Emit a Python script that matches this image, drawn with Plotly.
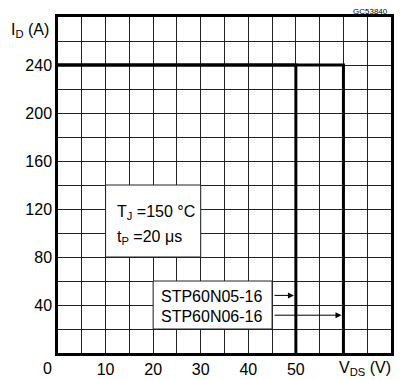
import plotly.graph_objects as go

# Data
vds_n05 = [0, 50, 50]
id_n05 = [240, 240, 0]
vds_n06 = [0, 60, 60]
id_n06 = [240, 240, 0]
x_ticks = [10, 20, 30, 40, 50]
y_ticks = [40, 80, 120, 160, 200, 240]
labels = ["STP60N05-16", "STP60N06-16"]

FONT = "Liberation Sans"

fig = go.Figure()
fig.add_trace(go.Scatter(x=vds_n05, y=id_n05, mode="lines",
                         line=dict(color="black", width=3), showlegend=False,
                         cliponaxis=False))
fig.add_trace(go.Scatter(x=vds_n06, y=id_n06, mode="lines",
                         line=dict(color="black", width=3), showlegend=False,
                         cliponaxis=False))

# white boxes
fig.add_shape(type="rect", x0=10, x1=30, y0=80, y1=140, fillcolor="white",
              line=dict(color="#222", width=1), layer="above")
fig.add_shape(type="rect", x0=20, x1=45, y0=20, y1=60, fillcolor="white",
              line=dict(color="#222", width=1), layer="above")

tf = dict(family=FONT, size=16, color="black")
ann = [
    dict(x=12.0, y=117.5, text="T<sub>J</sub> =150 °C", xanchor="left", yanchor="middle"),
    dict(x=12.0, y=96.5, text="t<sub>P</sub> =20 μs", xanchor="left", yanchor="middle"),
    dict(x=21.3, y=47, text=labels[0], xanchor="left", yanchor="middle"),
    dict(x=21.3, y=30.5, text=labels[1], xanchor="left", yanchor="middle"),
]
for a in ann:
    fig.add_annotation(xref="x", yref="y", showarrow=False, font=tf, **a)

outside = [
    dict(x=-0.084, y=0.961, text="I<sub>D</sub> (A)", font=tf),
    dict(x=-0.033, y=-0.045, text="0", font=tf),
    dict(x=0.922, y=-0.045, text="V<sub>DS</sub> (V)", font=tf),
    dict(x=0.937, y=1.016, text="GC53840", font=dict(family=FONT, size=8, color="black")),
]
for a in outside:
    fig.add_annotation(xref="paper", yref="paper", showarrow=False,
                       xanchor="center", yanchor="middle", **a)

# arrows
fig.add_annotation(xref="x", yref="y", axref="x", ayref="y", x=49.6, y=48, ax=45.2, ay=48,
                   text="", showarrow=True, arrowhead=2, arrowsize=1.2, arrowwidth=1, arrowcolor="black")
fig.add_annotation(xref="x", yref="y", axref="x", ayref="y", x=59.6, y=31.5, ax=45.2, ay=31.5,
                   text="", showarrow=True, arrowhead=2, arrowsize=1.2, arrowwidth=1, arrowcolor="black")

fig.update_xaxes(range=[0, 70], showgrid=True, gridcolor="#222", gridwidth=1, automargin=False,
                 showline=True, mirror=True, linecolor="black", linewidth=2.5,
                 tickmode="array", tickvals=x_ticks, ticktext=[str(v) for v in x_ticks],
                 ticks="", tickfont=tf, zeroline=False, fixedrange=True,
                 minor=dict(tickmode="linear", tick0=0, dtick=5, showgrid=True, gridcolor="#222", gridwidth=1))
fig.update_yaxes(range=[0, 280], showgrid=True, gridcolor="#222", gridwidth=1, automargin=False,
                 showline=True, mirror=True, linecolor="black", linewidth=2.5,
                 tickmode="array", tickvals=y_ticks, ticktext=[str(v) for v in y_ticks],
                 ticks="", tickfont=tf, zeroline=False, fixedrange=True,
                 minor=dict(tickmode="linear", tick0=0, dtick=20, showgrid=True, gridcolor="#222", gridwidth=1))

# page body has an 8px margin: the figure starts at (8, 8) in the page
fig.update_layout(width=389, height=372, margin=dict(l=50, r=6, t=9, b=27),
                  paper_bgcolor="white", plot_bgcolor="white", showlegend=False)

fig.write_html("out.html")
